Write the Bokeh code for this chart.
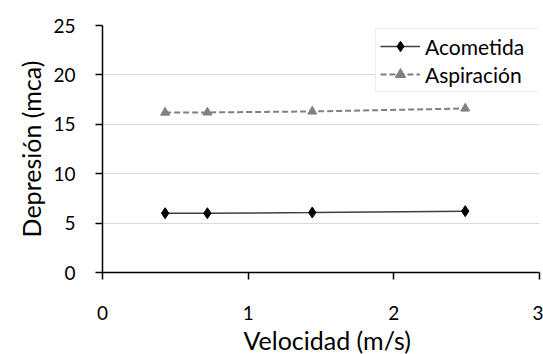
from bokeh.plotting import figure
from bokeh.models import FixedTicker, Range1d, Legend, LegendItem, Title
from bokeh.embed import file_html
from bokeh.resources import INLINE

# Data
velocidad = [0.43, 0.72, 1.44, 2.49]
acometida = [6.0, 6.0, 6.07, 6.21]
aspiracion = [16.19, 16.2, 16.3, 16.6]

x_ticks = [0, 1, 2, 3]
y_ticks = [0, 5, 10, 15, 20, 25]
series_names = ["Acometida", "Aspiración"]
x_title = "Velocidad (m/s)"
y_title = "Depresión (mca)"

FONT = "Lato"

p = figure(width=543, height=354, output_backend="svg", toolbar_location=None,
           x_range=Range1d(0, 3), y_range=Range1d(0, 25),
           min_border_left=102, min_border_right=4, min_border_top=25, min_border_bottom=82)
p.outline_line_color = None
p.background_fill_color = "white"
p.border_fill_color = "white"

# grid
p.xgrid.grid_line_color = None
p.ygrid.grid_line_color = "#d9d9d9"
p.ygrid.grid_line_width = 1

# axes
for ax in (p.xaxis, p.yaxis):
    ax.axis_line_color = "black"
    ax.axis_line_width = 1.5
    ax.major_tick_line_color = "black"
    ax.major_tick_line_width = 1.5
    ax.major_tick_in = 0
    ax.major_tick_out = 7
    ax.minor_tick_line_color = None
    ax.major_label_text_font = FONT
    ax.major_label_text_font_size = "19px"
    ax.major_label_text_color = "black"

p.xaxis.ticker = FixedTicker(ticks=x_ticks)
p.yaxis.ticker = FixedTicker(ticks=y_ticks)
p.xaxis.major_label_standoff = 26
p.yaxis.major_label_standoff = 20

# axis titles as side titles (allow offset like the reference)
ty = Title(text=y_title, align="center", offset=-14, standoff=10,
           text_font=FONT, text_font_size="25px", text_font_style="normal", text_color="black")
p.add_layout(ty, "left")
tx = Title(text=x_title, align="left", offset=141, standoff=0,
           text_font=FONT, text_font_size="25px", text_font_style="normal", text_color="black")
p.add_layout(tx, "below")

# series
l1 = p.line(velocidad, acometida, line_color="#404040", line_width=1.5)
m1 = p.scatter(velocidad, acometida, marker="diamond", size=11,
               fill_color="black", line_color="black")
l2 = p.line(velocidad, aspiracion, line_color="#808080", line_width=2, line_dash="6 3")
m2 = p.scatter(velocidad, aspiracion, marker="triangle", size=9,
               fill_color="#808080", line_color="#808080")

legend = Legend(items=[LegendItem(label=series_names[0], renderers=[l1, m1]),
                       LegendItem(label=series_names[1], renderers=[l2, m2])],
                location=(273, 180))
legend.label_text_font = FONT
legend.label_text_font_size = "21px"
legend.label_text_color = "black"
legend.border_line_color = "#d9d9d9"
legend.border_line_width = 1
legend.background_fill_alpha = 1
legend.glyph_width = 40
legend.glyph_height = 26
legend.label_height = 26
legend.label_width = 112
legend.label_standoff = 5
legend.spacing = 2
legend.padding = 4
legend.margin = 0
p.add_layout(legend)

open("out.html", "w").write(file_html(p, INLINE))
